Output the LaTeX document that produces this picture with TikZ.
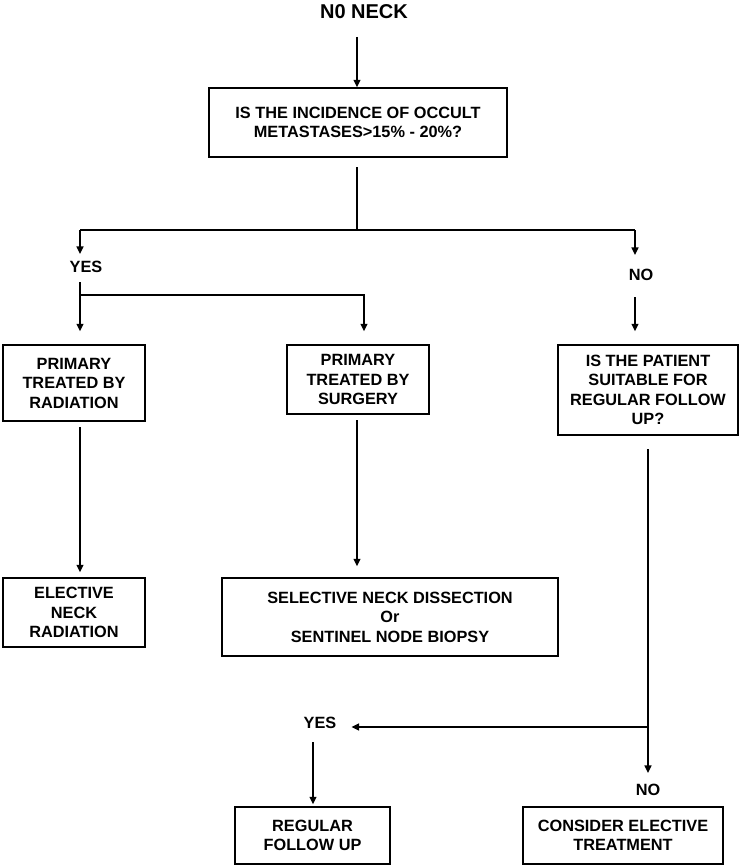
\documentclass[tikz,border=0pt]{standalone}
\usepackage{fontspec}
\setmainfont{Liberation Sans}
\usetikzlibrary{arrows.meta}
\begin{document}
\begin{tikzpicture}[x=1pt,y=-1pt,
  txt/.style={font=\bfseries\fontsize{16.3}{19.5}\selectfont},
  box/.style={txt, draw, line width=1.5pt, inner sep=0pt, align=center},
  lbl/.style={txt, inner sep=0pt, text height=11.7pt, text depth=0pt},
  ttl/.style={font=\bfseries\fontsize{20}{24}\selectfont, inner sep=0pt, text height=14.3pt, text depth=0pt},
  ln/.style={line width=1.3pt},
  arr/.style={line width=1.3pt, -{Triangle[length=7.5pt,width=7pt]}}]
\useasboundingbox (0,0) rectangle (742,867);

% nodes
\node[ttl] (title) at (364,11) {N0 NECK};
\node[box, minimum width=298pt, minimum height=69pt] (box1) at (358,122.5)
  {IS THE INCIDENCE OF OCCULT\\METASTASES>15\% - 20\%?};
\node[lbl] (yes1) at (86,267) {YES};
\node[lbl] (no1) at (641,275) {NO};
\node[box, minimum width=142pt, minimum height=76pt] (rad) at (74,383)
  {PRIMARY\\TREATED BY\\RADIATION};
\node[box, minimum width=142pt, minimum height=69pt] (surg) at (358,379.5)
  {PRIMARY\\TREATED BY\\SURGERY};
\node[box, minimum width=180pt, minimum height=90pt] (right) at (648,390)
  {IS THE PATIENT\\SUITABLE FOR\\REGULAR FOLLOW\\UP?};
\node[box, minimum width=142pt, minimum height=69pt] (elec) at (74,612.5)
  {ELECTIVE\\NECK\\RADIATION};
\node[box, minimum width=336pt, minimum height=78pt] (sel) at (390,617)
  {SELECTIVE NECK DISSECTION\\Or\\SENTINEL NODE BIOPSY};
\node[lbl] (yes2) at (320,723) {YES};
\node[lbl] (no2) at (648,790) {NO};
\node[box, minimum width=155pt, minimum height=57pt] (reg) at (312.5,835.5)
  {REGULAR\\FOLLOW UP};
\node[box, minimum width=200pt, minimum height=57pt] (cons) at (623,835.5)
  {CONSIDER ELECTIVE\\TREATMENT};

% coordinates
\coordinate (t1) at (357,37);
\coordinate (s1) at (357,167);
\coordinate (j1) at (357,230);
\coordinate (jL) at (80,230);
\coordinate (jR) at (635,230);
\coordinate (y1b) at (80,282);
\coordinate (y1j) at (80,295);
\coordinate (y1r) at (364,295);
\coordinate (n1b) at (635,297);
\coordinate (r1) at (80,427);
\coordinate (sg1) at (357,420);
\coordinate (rb) at (648,449);
\coordinate (rj) at (648,727);
\coordinate (y2b) at (313,742);

% connectors
\draw[arr] (t1) -- (t1 |- box1.north);
\draw[ln] (s1) -- (j1);
\draw[ln] (jL) -- (jR);
\draw[arr, shorten >=7pt] (jL) -- (jL |- yes1.north);
\draw[arr, shorten >=14pt] (jR) -- (jR |- no1.north);
\draw[arr, shorten >=13pt] (y1b) -- (y1b |- rad.north);
\draw[arr, shorten >=13pt] (y1j) -- (y1r) -- (y1r |- surg.north);
\draw[arr, shorten >=13pt] (n1b) -- (n1b |- right.north);
\draw[arr, shorten >=5pt] (r1) -- (r1 |- elec.north);
\draw[arr, shorten >=11pt] (sg1) -- (sg1 |- sel.north);
\draw[arr, shorten >=11pt] (rb) -- (rb |- no2.north);
\draw[arr, shorten >=15pt] (rj) -- (yes2.east |- rj);
\draw[arr, shorten >=2pt] (y2b) -- (y2b |- reg.north);
\end{tikzpicture}
\end{document}
